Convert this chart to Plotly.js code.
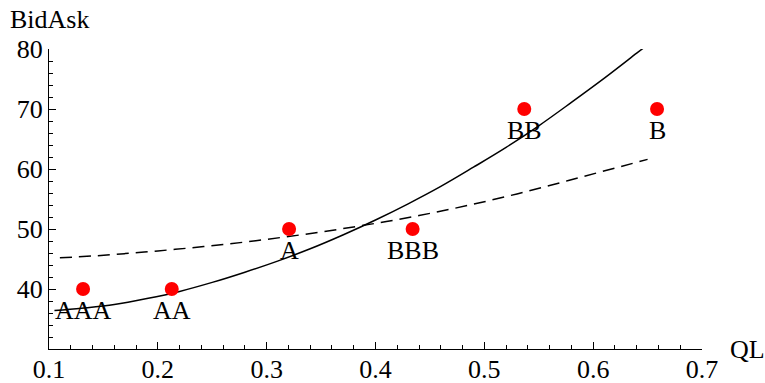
<!DOCTYPE html>
<html>
<head>
<meta charset="utf-8">
<script src="https://cdn.plot.ly/plotly-3.0.1.min.js"></script>
<style>
  html, body { margin: 0; padding: 0; background: #fff; }
  #chart { width: 765px; height: 383px; }
</style>
</head>
<body>
<div id="chart"></div>
<script>
// Rating points
const ratings = ["AAA", "AA", "A", "BBB", "BB", "B"];
const qlValues = [0.1313, 0.2128, 0.3206, 0.4341, 0.5367, 0.6587];
const bidAskValues = [40, 40, 50, 50, 70, 70];

// Solid fitted curve
const solidX = [0.105, 0.13, 0.16, 0.19, 0.22, 0.25, 0.28, 0.31, 0.34, 0.37, 0.40, 0.43, 0.46, 0.49, 0.52, 0.55, 0.58, 0.61, 0.64, 0.65];
const solidY = [36.4, 36.8, 37.4, 38.4, 39.6, 41.1, 42.8, 44.65, 46.7, 49.0, 51.5, 54.2, 57.1, 60.3, 63.6, 67.2, 71.1, 75.1, 79.3, 80.7];

// Dashed fitted curve
const dashedX = [0.11, 0.14, 0.17, 0.20, 0.23, 0.26, 0.29, 0.32, 0.35, 0.38, 0.41, 0.44, 0.47, 0.50, 0.53, 0.56, 0.59, 0.62, 0.65];
const dashedY = [45.2, 45.5, 45.9, 46.35, 46.85, 47.4, 48.05, 48.75, 49.5, 50.35, 51.25, 52.25, 53.35, 54.55, 55.85, 57.25, 58.7, 60.15, 61.6];

// Axis ticks
const xTickVals = [0.1, 0.2, 0.3, 0.4, 0.5, 0.6, 0.7];
const xTickText = ["0.1", "0.2", "0.3", "0.4", "0.5", "0.6", "0.7"];
const yTickVals = [40, 50, 60, 70, 80];
const yTickText = ["40", "50", "60", "70", "80"];

const serif = "Liberation Serif";
const fontSize = 26;

const traces = [
  {
    x: solidX, y: solidY, type: "scatter", mode: "lines",
    line: { color: "#000", width: 1.5, shape: "spline", smoothing: 1 },
    hoverinfo: "skip", showlegend: false
  },
  {
    x: dashedX, y: dashedY, type: "scatter", mode: "lines",
    line: { color: "#000", width: 1.5, dash: "12px,7px", shape: "spline", smoothing: 1 },
    hoverinfo: "skip", showlegend: false
  },
  {
    x: qlValues, y: bidAskValues, type: "scatter", mode: "markers",
    marker: { color: "#ff0000", size: 14 },
    hoverinfo: "skip", showlegend: false
  }
];

const annotations = ratings.map((r, i) => ({
  x: qlValues[i], y: bidAskValues[i], xref: "x", yref: "y",
  text: r, showarrow: false, xanchor: "center", yanchor: "middle",
  yshift: -21,
  font: { family: serif, size: fontSize, color: "#000" }
}));

annotations.push({
  x: -0.0628, y: 1.0967, xref: "paper", yref: "paper",
  text: "BidAsk", showarrow: false, xanchor: "left", yanchor: "middle",
  font: { family: serif, size: fontSize, color: "#000" }
});
annotations.push({
  x: 1.0398, y: 0, xref: "paper", yref: "paper",
  text: "QL", showarrow: false, xanchor: "left", yanchor: "middle",
  font: { family: serif, size: fontSize, color: "#000" }
});

const layout = {
  width: 765, height: 383,
  margin: { l: 49, r: 63, t: 49, b: 34, pad: 0 },
  paper_bgcolor: "#fff", plot_bgcolor: "#fff",
  showlegend: false,
  font: { family: serif, size: fontSize, color: "#000" },
  xaxis: {
    range: [0.1, 0.7], showgrid: false, zeroline: false,
    showline: true, linecolor: "#000", linewidth: 1,
    tickmode: "array", tickvals: xTickVals, ticktext: xTickText,
    ticks: "inside", ticklen: 7, tickwidth: 1, tickcolor: "#000",
    ticklabelstandoff: -3,
    minor: { ticks: "inside", ticklen: 4, tickwidth: 1, tickcolor: "#000", tickmode: "linear", tick0: 0.1, dtick: 0.02, showgrid: false },
    tickfont: { family: serif, size: fontSize, color: "#000" },
    fixedrange: true
  },
  yaxis: {
    range: [30, 80], showgrid: false, zeroline: false,
    showline: true, linecolor: "#000", linewidth: 1,
    tickmode: "array", tickvals: yTickVals, ticktext: yTickText,
    ticks: "inside", ticklen: 7, tickwidth: 1, tickcolor: "#000",
    minor: { ticks: "inside", ticklen: 4, tickwidth: 1, tickcolor: "#000", tickmode: "linear", tick0: 30, dtick: 2, showgrid: false },
    tickfont: { family: serif, size: fontSize, color: "#000" },
    fixedrange: true
  },
  annotations: annotations
};

Plotly.newPlot("chart", traces, layout, { staticPlot: true, displayModeBar: false });
</script>
</body>
</html>
